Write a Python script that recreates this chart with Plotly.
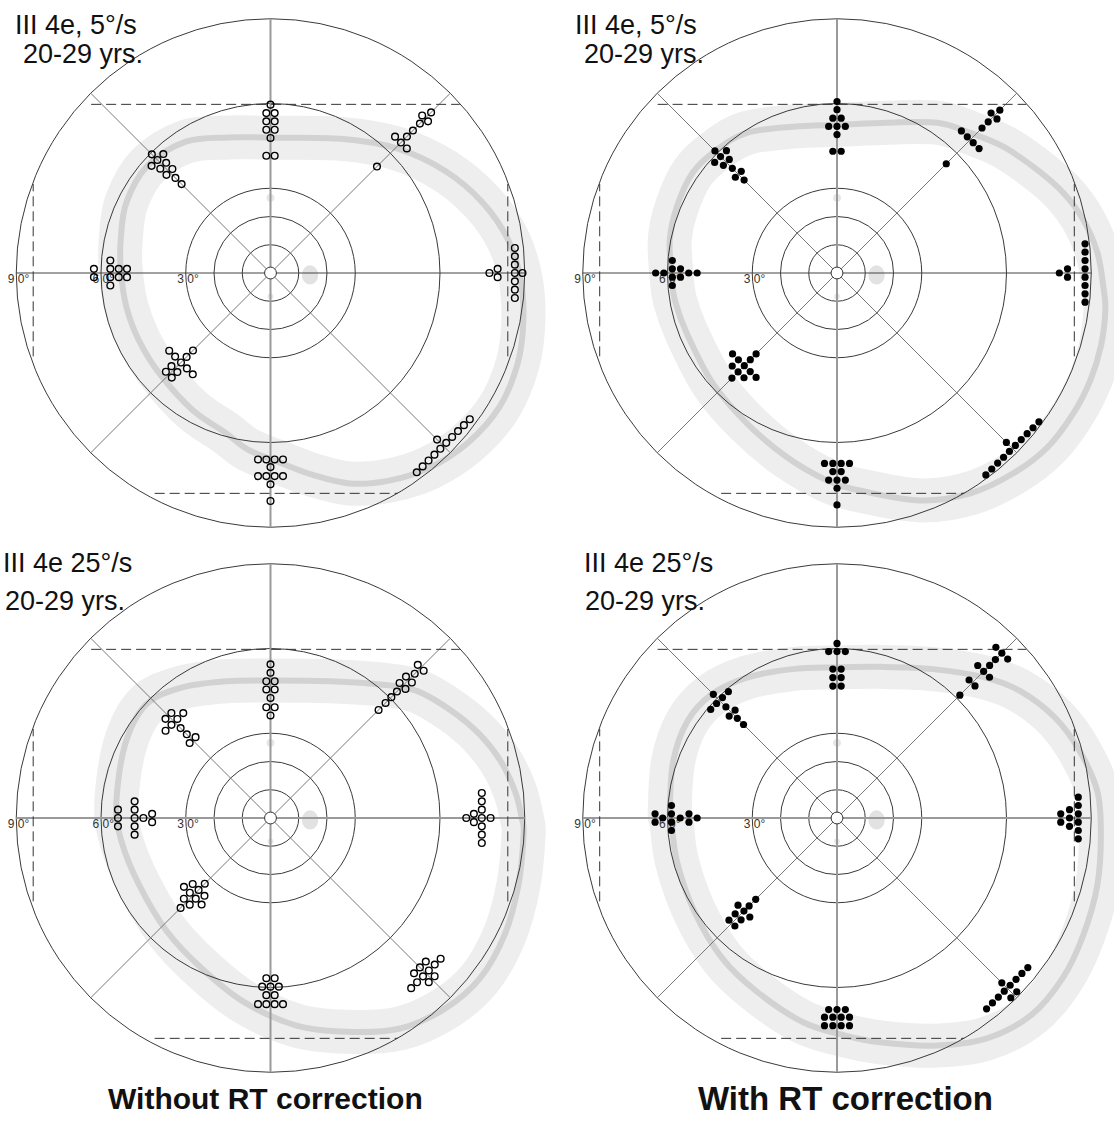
import math
import plotly.graph_objects as go

W, H = 1114, 1126
S = 2.825          # pixels per degree of eccentricity
STEP = 2.95        # side-by-side spacing (deg) for repeated thresholds

# ---------------------------------------------------------------------------
# Isopter thresholds: meridian (deg) -> list of (eccentricity deg, number of eyes)
# ---------------------------------------------------------------------------
slow_without = {
    0: [(77.5, 1), (80.4, 2), (86.5, 7), (89.2, 1)],
    45: [(53.3, 1), (65.3, 3), (68.3, 1), (71.3, 1), (74.8, 1), (77.4, 2), (80.4, 1)],
    90: [(41.5, 2), (47.8, 1), (50.7, 2), (53.7, 2), (56.6, 2), (59.6, 1)],
    135: [(44.5, 1), (47.6, 1), (50.6, 2), (53.7, 2), (56.6, 3), (59.4, 1)],
    180: [(50.8, 2), (53.7, 2), (56.7, 4), (62.5, 2)],
    225: [(38.8, 1), (42.0, 1), (44.8, 5), (48.1, 2), (50.9, 2)],
    270: [(66.0, 4), (68.7, 1), (71.9, 4), (74.8, 1), (80.7, 1)],
    315: [(83.4, 1), (86.5, 10)],
}
slow_with = {
    0: [(78.7, 1), (81.6, 2), (87.8, 8)],
    45: [(54.7, 1), (66.7, 4), (72.6, 1), (75.7, 1), (78.6, 2), (81.5, 1)],
    90: [(43.1, 2), (49.0, 1), (51.9, 3), (54.8, 2), (57.8, 1), (60.7, 1)],
    135: [(46.5, 1), (49.4, 2), (52.4, 1), (55.4, 2), (58.3, 3), (61.1, 1)],
    180: [(49.5, 1), (52.5, 1), (55.4, 2), (58.3, 4), (61.3, 1), (64.2, 1)],
    225: [(40.5, 1), (43.4, 1), (46.4, 5), (49.5, 3), (52.6, 1)],
    270: [(67.4, 4), (70.3, 2), (73.3, 3), (76.2, 1), (82.1, 1)],
    315: [(84.8, 1), (87.8, 10)],
}
fast_without = {
    0: [(69.3, 1), (72.0, 2), (74.8, 7), (77.9, 1)],
    45: [(54.1, 1), (57.6, 1), (60.5, 1), (63.3, 1), (66.1, 2), (69.3, 2), (72.2, 1), (75.2, 2)],
    90: [(36.3, 1), (39.2, 2), (42.5, 1), (45.5, 2), (48.4, 2), (51.4, 1), (54.4, 1)],
    135: [(39.0, 2), (41.9, 1), (45.0, 1), (48.1, 4), (51.1, 2)],
    180: [(41.9, 2), (45.0, 1), (48.1, 5), (54.0, 3)],
    225: [(32.9, 1), (36.0, 3), (38.9, 4), (41.9, 2), (45.0, 1)],
    270: [(56.7, 2), (59.7, 3), (62.7, 2), (65.9, 4)],
    315: [(74.8, 3), (77.8, 6), (80.7, 2)],
}
fast_with = {
    0: [(79.2, 2), (82.3, 3), (85.4, 6)],
    45: [(61.5, 1), (67.6, 2), (73.4, 3), (76.4, 1), (79.3, 1), (82.5, 3)],
    90: [(46.7, 2), (49.7, 2), (52.7, 2), (58.9, 3), (61.8, 1)],
    135: [(46.8, 1), (49.9, 1), (52.5, 2), (55.6, 1), (58.8, 4), (61.9, 1)],
    180: [(49.5, 1), (52.4, 2), (55.5, 1), (58.6, 4), (61.7, 1), (64.4, 2)],
    225: [(40.7, 1), (44.0, 1), (46.6, 3), (49.5, 2), (52.6, 2)],
    270: [(67.8, 3), (70.5, 4), (73.5, 4)],
    315: [(82.5, 1), (85.2, 8), (88.5, 2)],
}

# Normal-range isopter band (centre line, x/y in degrees)
band_slow_without_x = [0, 25, 45, 62, 75, 84, 88.5, 89.5, 87.5, 81, 70, 56.6, 42, 28, 15, 3, -8, -16,
                       -27.5, -39, -46.5, -51, -53, -53, -51, -43.5, -30, -15]
band_slow_without_y = [47.9, 47.5, 44, 36, 25, 12, -2, -17, -32, -47.5, -60, -68.8, -73.5, -74.5, -71.5,
                       -67, -62.5, -56.5, -48.6, -36, -24, -12, 1, 12, 25, 38, 46.5, 48]
band_slow_with_x = [1.1, 17.7, 35.5, 47.2, 58.9, 70.9, 80.1, 87.2, 92.2, 94.3, 95.0, 93.5, 89.7, 83.7, 74.5,
                    62.4, 47.2, 29.4, 8.2, -3.5, -17.7, -31.9, -44.0, -53.2, -57.4, -58.5, -59.2, -56.7,
                    -51.1, -42.6, -31.9, -15.6]
band_slow_with_y = [52.5, 53.2, 53.2, 49.6, 44.7, 36.5, 28.4, 18.8, 7.1, -5.0, -13.1, -25.5, -37.9, -49.6,
                    -61.7, -70.9, -78.0, -80.5, -77.0, -73.4, -65.2, -53.2, -39.0, -21.3, -9.6, -1.4, 11.7,
                    23.4, 35.5, 43.6, 49.6, 51.8]
band_fast_without_x = [0, 21.2, 39.7, 52.0, 64.4, 74.2, 81.6, 86.6, 89.0, 89.6, 87.8, 82.9, 74.2, 61.9, 45.9,
                       27.4, 8.9, -9.6, -24.4, -36.7, -46.6, -52.8, -54.6, -51.5, -44.1, -31.8, -15.8]
band_fast_without_y = [48.7, 48.4, 47.2, 44.9, 37.7, 29.4, 19.9, 9.3, -0.2, -5.7, -23.5, -41.3, -56.7, -67.4,
                       -74.5, -75.7, -73.4, -65.0, -53.2, -40.1, -23.5, -8.1, 5.0, 25.9, 40.1, 46.1, 48.4]
band_fast_with_x = [0.1, 15.3, 33.9, 52.5, 64.9, 77.3, 86.0, 92.2, 93.4, 92.2, 87.2, 79.8, 68.6, 52.5, 33.9,
                    15.3, 2.9, -12.0, -28.2, -40.6, -50.5, -56.7, -58.6, -59.2, -58.0, -53.0, -44.3, -31.9,
                    -15.8]
band_fast_with_y = [53.3, 53.5, 52.7, 49.7, 44.9, 35.4, 23.5, 9.3, -5.7, -23.5, -41.4, -56.8, -69.9, -78.2,
                    -80.6, -79.4, -77.0, -72.3, -61.6, -49.7, -33.1, -15.2, -1.0, 2.1, 20.0, 34.2, 43.8,
                    49.7, 52.7]

RINGS = [10, 20, 30, 60, 90]
RING_LABELS = ["9 0°", "6 0°", "3 0°"]
RING_LABEL_POS = [-90, -60, -30]

panel_titles = [
    ("III 4e, 5°/s", "20-29 yrs."),
    ("III 4e, 5°/s", "20-29 yrs."),
    ("III 4e 25°/s", "20-29 yrs."),
    ("III 4e 25°/s", "20-29 yrs."),
]
column_captions = ["Without RT correction", "With RT correction"]

# page-pixel boxes of the four fields: x0, x1, y0, y1, centre x, centre y
PANELS = [
    (0, 553, 0, 545, 270.5, 273),
    (557, 1114, 0, 545, 837, 273),
    (0, 553, 545, 1090, 270.5, 818),
    (557, 1114, 545, 1090, 837, 818),
]
panel_data = [slow_without, slow_with, fast_without, fast_with]
panel_band = [
    (band_slow_without_x, band_slow_without_y),
    (band_slow_with_x, band_slow_with_y),
    (band_fast_without_x, band_fast_without_y),
    (band_fast_with_x, band_fast_with_y),
]
panel_filled = [False, True, False, True]


def cluster_xy(groups):
    xs, ys = [], []
    for ang, pairs in groups.items():
        c, s = math.cos(math.radians(ang)), math.sin(math.radians(ang))
        for ecc, n in pairs:
            for k in range(n):
                lat = (k - (n - 1) / 2) * STEP
                xs.append(ecc * c - lat * s)
                ys.append(ecc * s + lat * c)
    return xs, ys


def smooth_closed_path(xs, ys):
    pts = list(zip(xs, ys))
    n = len(pts)
    d = f"M {pts[0][0]:.3f},{pts[0][1]:.3f}"
    for i in range(n):
        p0, p1, p2, p3 = pts[i - 1], pts[i], pts[(i + 1) % n], pts[(i + 2) % n]
        c1 = (p1[0] + (p2[0] - p0[0]) / 6, p1[1] + (p2[1] - p0[1]) / 6)
        c2 = (p2[0] - (p3[0] - p1[0]) / 6, p2[1] - (p3[1] - p1[1]) / 6)
        d += f" C {c1[0]:.3f},{c1[1]:.3f} {c2[0]:.3f},{c2[1]:.3f} {p2[0]:.3f},{p2[1]:.3f}"
    return d + " Z"


fig = go.Figure()
shapes = []
annotations = []
layout_axes = {}

for i, (px0, px1, py0, py1, cx, cy) in enumerate(PANELS):
    sfx = "" if i == 0 else str(i + 1)
    xr, yr = "x" + sfx, "y" + sfx
    layout_axes["xaxis" + sfx] = dict(domain=[px0 / W, px1 / W], range=[(px0 - cx) / S, (px1 - cx) / S],
                                      visible=False, fixedrange=True, anchor=yr)
    layout_axes["yaxis" + sfx] = dict(domain=[1 - py1 / H, 1 - py0 / H], range=[(cy - py1) / S, (cy - py0) / S],
                                      visible=False, fixedrange=True, anchor=xr)
    ref = dict(xref=xr, yref=yr, layer="below")

    # grey normal band with its darker centre line
    bx, by = panel_band[i]
    path = smooth_closed_path(bx, by)
    shapes.append(dict(type="path", path=path, line=dict(color="#eeeeee", width=44),
                       fillcolor="rgba(0,0,0,0)", **ref))
    shapes.append(dict(type="path", path=path, line=dict(color="#d2d2d2", width=6),
                       fillcolor="rgba(0,0,0,0)", **ref))

    # blind spot and small grey marks on the vertical meridian
    shapes.append(dict(type="circle", x0=14 - 2.9, x1=14 + 2.9, y0=-0.7 - 3.4, y1=-0.7 + 3.4,
                       fillcolor="#e2e2e2", line=dict(width=0), **ref))
    shapes.append(dict(type="circle", x0=-1.4, x1=1.4, y0=26.6 - 1.4, y1=26.6 + 1.4,
                       fillcolor="#e6e6e6", line=dict(width=0), **ref))
    shapes.append(dict(type="circle", x0=-1.0, x1=1.0, y0=-8.3 - 1.0, y1=-8.3 + 1.0,
                       fillcolor="#e6e6e6", line=dict(width=0), **ref))

    # eccentricity rings
    for r in RINGS:
        shapes.append(dict(type="circle", x0=-r, x1=r, y0=-r, y1=r,
                           line=dict(color="#3a3a3a", width=1), fillcolor="rgba(0,0,0,0)", **ref))

    # meridians
    for ang in (45, 135, 225, 315):
        a = math.radians(ang)
        shapes.append(dict(type="line", x0=0, y0=0, x1=90 * math.cos(a), y1=90 * math.sin(a),
                           line=dict(color="#6a6a6a", width=0.9), **ref))
    hcol, hw = ("#444444", 1.2) if i < 2 else ("#9a9a9a", 2)
    shapes.append(dict(type="line", x0=-90, y0=0, x1=90, y1=0, line=dict(color=hcol, width=hw), **ref))
    shapes.append(dict(type="line", x0=0, y0=-90, x1=0, y1=90, line=dict(color="#9a9a9a", width=2), **ref))

    # dashed normal limits
    dash = dict(color="#333333", width=1, dash="10px,5px")
    shapes.append(dict(type="line", x0=-63.5, y0=59.7, x1=67, y1=59.7, line=dash, **ref))
    shapes.append(dict(type="line", x0=-41, y0=-78, x1=45, y1=-78, line=dash, **ref))
    shapes.append(dict(type="line", x0=-84, y0=-29.5, x1=-84, y1=31.5, line=dash, **ref))
    shapes.append(dict(type="line", x0=84, y0=-29.5, x1=84, y1=31.5, line=dash, **ref))

    # fixation point
    shapes.append(dict(type="circle", x0=-2.1, x1=2.1, y0=-2.1, y1=2.1, fillcolor="white",
                       line=dict(color="#333333", width=1), **ref))

    # ring labels
    fig.add_trace(go.Scatter(
        x=[p + 0.8 for p in RING_LABEL_POS], y=[-2.4] * 3, mode="text", text=RING_LABELS,
        textfont=dict(family="Liberation Sans, Arial", size=12, color="#333333"),
        xaxis=xr, yaxis=yr, hoverinfo="skip", showlegend=False, cliponaxis=False))

    # thresholds
    mx, my = cluster_xy(panel_data[i])
    if panel_filled[i]:
        marker = dict(symbol="circle", size=7.2, color="black", line=dict(width=0))
    else:
        marker = dict(symbol="circle-open", size=6.7, color="black", line=dict(width=1.4))
    fig.add_trace(go.Scatter(x=mx, y=my, mode="markers", marker=marker, xaxis=xr, yaxis=yr,
                             hoverinfo="skip", showlegend=False, cliponaxis=False))

# panel titles
title_pos = [((12.5, 25), (21, 54)), ((572.5, 25), (582, 54)),
             ((1, 562.5), (2.5, 601)), ((581.5, 562.5), (583, 601))]
for (t1, t2), ((x1, y1), (x2, y2)) in zip(panel_titles, title_pos):
    for txt, xx, yy in ((t1, x1, y1), (t2, x2, y2)):
        annotations.append(dict(text=txt, x=xx / W, y=1 - yy / H, xref="paper", yref="paper",
                                xanchor="left", yanchor="middle", showarrow=False,
                                font=dict(family="Liberation Sans, Arial", size=27, color="#111111")))

# column captions
for txt, xc, fs in zip(column_captions, (265, 845), (30, 33)):
    annotations.append(dict(text="<b>" + txt + "</b>", x=xc / W, y=1 - 1098 / H, xref="paper", yref="paper",
                            xanchor="center", yanchor="middle", showarrow=False,
                            font=dict(family="Liberation Sans, Arial", size=fs, color="#111111")))

fig.update_layout(width=W, height=H, margin=dict(l=0, r=0, t=0, b=0, pad=0),
                  paper_bgcolor="white", plot_bgcolor="rgba(0,0,0,0)",
                  shapes=shapes, annotations=annotations, showlegend=False, **layout_axes)

fig.write_html("out.html")
